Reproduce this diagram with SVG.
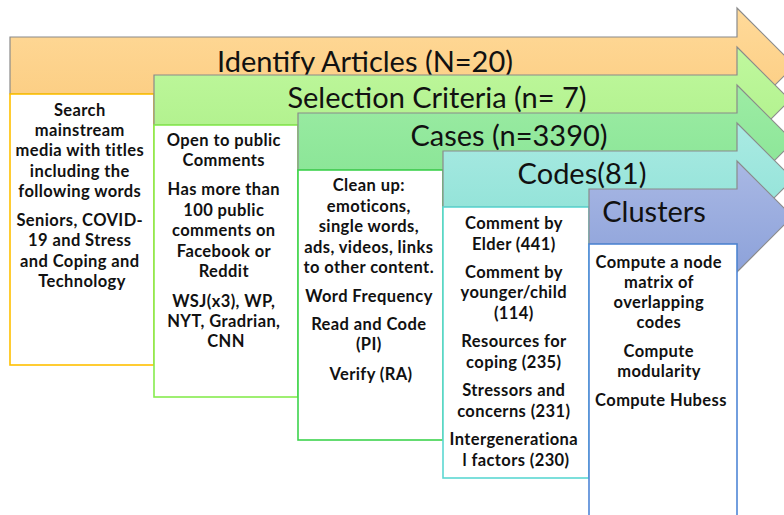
<svg xmlns="http://www.w3.org/2000/svg" width="784" height="515" viewBox="0 0 784 515">
<defs>
<linearGradient id="gOrange" x1="0" y1="0" x2="0" y2="1"><stop offset="0" stop-color="#FFDA9A"/><stop offset="1" stop-color="#FBCB7E"/></linearGradient>
<linearGradient id="gLime" x1="0" y1="0" x2="0" y2="1"><stop offset="0" stop-color="#C0F89E"/><stop offset="1" stop-color="#AEF08A"/></linearGradient>
<linearGradient id="gGreen" x1="0" y1="0" x2="0" y2="1"><stop offset="0" stop-color="#9DECA4"/><stop offset="1" stop-color="#86E494"/></linearGradient>
<linearGradient id="gTeal" x1="0" y1="0" x2="0" y2="1"><stop offset="0" stop-color="#AAEAE3"/><stop offset="1" stop-color="#8EE2D6"/></linearGradient>
<linearGradient id="gBlue" x1="0" y1="0" x2="0" y2="1"><stop offset="0" stop-color="#A9B8E4"/><stop offset="1" stop-color="#8DA2DA"/></linearGradient>
</defs>
<style>
.arrow{stroke:#8A8A8A;stroke-width:1.2;stroke-linejoin:miter}
.box{fill:#FFFFFF;stroke-width:1.6}
.title{font-family:Lato,"Liberation Sans",sans-serif;font-size:29px;fill:#111111;text-anchor:middle}
.body{font-family:Lato,"Liberation Sans",sans-serif;font-size:16.5px;letter-spacing:0.4px;font-weight:bold;fill:#111111;text-anchor:middle}
</style>
<rect width="784" height="515" fill="#FFFFFF"/>

<g id="identify">
<path class="arrow" fill="url(#gOrange)" d="M10,37 H737 V8 L794.5,65.5 L737,123 V94 H10 Z"/>
<rect class="box" stroke="#FFC000" x="10" y="94" width="144" height="271"/>
<text class="title" x="365" y="72">Identify Articles (N=20)</text>
<text class="body">
<tspan x="82" y="116">Search</tspan>
<tspan x="82" y="136">mainstream</tspan>
<tspan x="82" y="156">media with titles</tspan>
<tspan x="82" y="177">including the</tspan>
<tspan x="82" y="197">following words</tspan>
<tspan x="82" y="226">Seniors, COVID-</tspan>
<tspan x="82" y="246">19 and Stress</tspan>
<tspan x="82" y="267">and Coping and</tspan>
<tspan x="82" y="287">Technology</tspan>
</text>
</g>

<g id="selection">
<path class="arrow" fill="url(#gLime)" d="M154,75 H737 V47 L790,100 L737,153 V125 H154 Z"/>
<rect class="box" stroke="#86EC4E" x="154" y="125" width="144" height="272"/>
<text class="title" x="437" y="108">Selection Criteria (n= 7)</text>
<text class="body">
<tspan x="226" y="146">Open to public</tspan>
<tspan x="226" y="166">Comments</tspan>
<tspan x="226" y="195">Has more than</tspan>
<tspan x="226" y="216">100 public</tspan>
<tspan x="226" y="236">comments on</tspan>
<tspan x="226" y="257">Facebook or</tspan>
<tspan x="226" y="277">Reddit</tspan>
<tspan x="226" y="307">WSJ(x3), WP,</tspan>
<tspan x="226" y="327">NYT, Gradrian,</tspan>
<tspan x="226" y="347">CNN</tspan>
</text>
</g>

<g id="cases">
<path class="arrow" fill="url(#gGreen)" d="M298,113 H737 V85 L793.5,141.5 L737,198 V170 H298 Z"/>
<rect class="box" stroke="#3ED44E" x="298" y="170" width="145" height="270"/>
<text class="title" x="509" y="146">Cases (n=3390)</text>
<text class="body">
<tspan x="371" y="191">Clean up:</tspan>
<tspan x="371" y="212">emoticons,</tspan>
<tspan x="371" y="232">single words,</tspan>
<tspan x="371" y="253">ads, videos, links</tspan>
<tspan x="371" y="273">to other content.</tspan>
<tspan x="371" y="302">Word Frequency</tspan>
<tspan x="371" y="330">Read and Code</tspan>
<tspan x="371" y="350">(PI)</tspan>
<tspan x="371" y="380">Verify (RA)</tspan>
</text>
</g>

<g id="codes">
<path class="arrow" fill="url(#gTeal)" d="M443,151 H737 V123 L793,179 L737,235 V207 H443 Z"/>
<rect class="box" stroke="#5CD8D2" x="443" y="207" width="146" height="271"/>
<text class="title" x="582" y="184">Codes(81)</text>
<text class="body">
<tspan x="516" y="229">Comment by</tspan>
<tspan x="516" y="250">Elder (441)</tspan>
<tspan x="516" y="278">Comment by</tspan>
<tspan x="516" y="298">younger/child</tspan>
<tspan x="516" y="319">(114)</tspan>
<tspan x="516" y="347">Resources for</tspan>
<tspan x="516" y="368">coping (235)</tspan>
<tspan x="516" y="396">Stressors and</tspan>
<tspan x="516" y="417">concerns (231)</tspan>
<tspan x="516" y="445">Intergenerationa</tspan>
<tspan x="516" y="466">l factors (230)</tspan>
</text>
</g>

<g id="clusters">
<path class="arrow" fill="url(#gBlue)" d="M589,189 H737 V161 L792.5,216.5 L737,272 V244 H589 Z"/>
<rect class="box" stroke="#4F86D6" x="589" y="244" width="148" height="275"/>
<text class="title" x="654" y="222">Clusters</text>
<text class="body">
<tspan x="661" y="268">Compute a node</tspan>
<tspan x="661" y="288">matrix of</tspan>
<tspan x="661" y="308">overlapping</tspan>
<tspan x="661" y="328">codes</tspan>
<tspan x="661" y="357">Compute</tspan>
<tspan x="661" y="377">modularity</tspan>
<tspan x="661" y="406">Compute Hubess</tspan>
</text>
</g>

<g id="connectors"></g>
</svg>
